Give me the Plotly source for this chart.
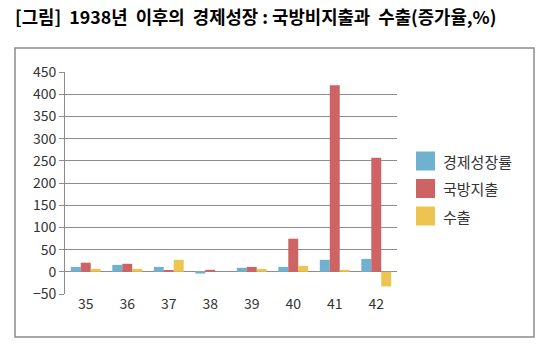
import plotly.graph_objects as go

years = ["35", "36", "37", "38", "39", "40", "41", "42"]
growth = [11, 15.5, 11, -4, 9, 11, 27, 29]
defense = [20.5, 18, 2.5, 4.5, 11, 74.5, 420, 257]
exports = [6.5, 6.5, 27, 0, 6.5, 13.5, 4.5, -33]
series_names = ["경제성장률", "국방지출", "수출"]
colors = ["#70B1D1", "#CD6363", "#EDC452"]
NB = "\u00a0"
title_text = "[그림]" + NB * 2 + "1938년" + NB * 2 + "이후의" + NB * 2 + "경제성장" + NB + ":" + NB + "국방비지출과" + NB * 2 + "수출(증가율,%)"

FONT = "Noto Sans CJK KR"
fig = go.Figure()
for name, vals, c in zip(series_names, [growth, defense, exports], colors):
    fig.add_trace(go.Bar(x=years, y=vals, name=name, showlegend=False,
                         marker=dict(color=c, line=dict(width=0))))

W, H = 552, 356
L, R, T, B = 65, 155, 72, 62
pw, ph = W - L - R, H - T - B

def px(x):
    return (x - L) / pw

def py(y):
    return (H - B - y) / ph

shapes = [dict(type="rect", xref="paper", yref="paper", x0=px(15), x1=px(534), y0=py(337), y1=py(48),
               line=dict(color="#8C8C8C", width=1.5), fillcolor="rgba(0,0,0,0)", layer="below")]
annotations = []
for i, (name, c) in enumerate(zip(series_names, colors)):
    yc = 161 + i * 27.5
    shapes.append(dict(type="rect", xref="paper", yref="paper", x0=px(416), x1=px(435),
                       y0=py(yc + 9.5), y1=py(yc - 9.5), fillcolor=c, line=dict(width=0)))
    annotations.append(dict(text=name, xref="paper", yref="paper", x=px(441), y=py(yc),
                            xanchor="left", yanchor="middle", showarrow=False,
                            font=dict(family=FONT, size=15, color="#333333")))

fig.update_layout(
    width=W, height=H,
    margin=dict(l=L, r=R, t=T, b=B),
    paper_bgcolor="white", plot_bgcolor="white",
    barmode="group", bargap=0.28, bargroupgap=0,
    font=dict(family=FONT, size=13, color="#333333"),
    title=dict(text="<b>" + title_text + "</b>", x=15 / W, xanchor="left", y=1 - 18 / H, yanchor="middle",
               font=dict(family=FONT, size=17.8, color="#000000")),
    showlegend=False,
    xaxis=dict(showgrid=False, showline=False, ticks="", tickfont=dict(size=14)),
    yaxis=dict(range=[-50, 450], dtick=50, showgrid=True, gridcolor="#8C8C8C", gridwidth=1,
               zeroline=True, zerolinecolor="#8C8C8C", zerolinewidth=1,
               showline=True, linecolor="#8C8C8C", ticks="outside", ticklen=5, tickcolor="#8C8C8C",
               tickfont=dict(size=14)),
    shapes=shapes,
    annotations=annotations,
)

fig.write_html("out.html", config={"displayModeBar": False},
               post_script="document.body.style.margin='0';")
